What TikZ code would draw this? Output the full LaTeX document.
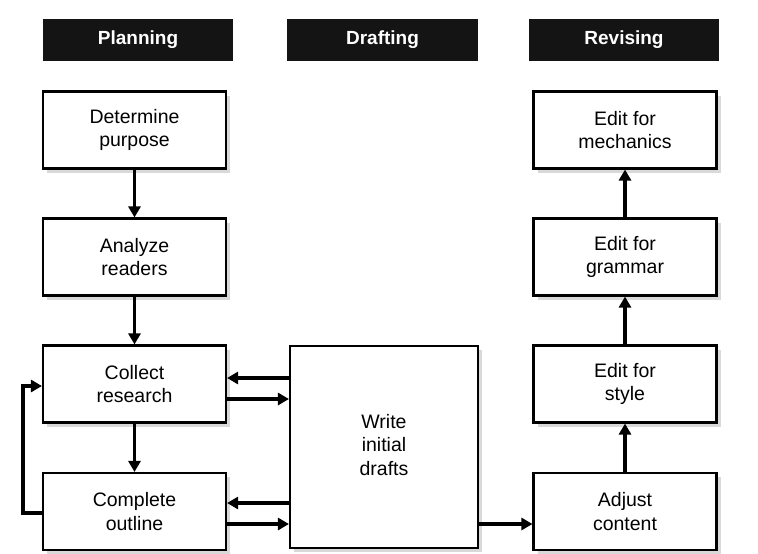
\documentclass[tikz,border=0pt]{standalone}
\usepackage{fontspec}
\setmainfont{Liberation Sans}
\usetikzlibrary{arrows.meta,shadows}

\tikzset{
  phase/.style={fill=black!92, text=white, minimum width=190pt, minimum height=42pt,
    inner sep=0pt, font=\fontsize{19}{23}\selectfont\bfseries},
  stepbox/.style={draw=black, line width=2.1pt, fill=white, minimum width=183pt,
    minimum height=77pt, inner sep=0pt, align=center,
    font=\fontsize{19.5}{23.5}\selectfont,
    drop shadow={shadow xshift=4pt, shadow yshift=-4pt, fill=black!15, opacity=1}},
  arr/.style={line width=3.4pt, -{Triangle[length=11pt,width=12pt]}},
}

\begin{document}
\begin{tikzpicture}[x=1pt, y=-1pt]
  \useasboundingbox (0,0) rectangle (758,554);

  % column headings
  \node[phase] (hplan) at (138,40) {Planning};
  \node[phase, minimum width=191pt] (hdraft) at (382.5,40) {Drafting};
  \node[phase] (hrev) at (624,40) {Revising};

  % planning column
  \node[stepbox] (det) at (134.5,130) {Determine\\purpose};
  \node[stepbox] (ana) at (134.5,257) {Analyze\\readers};
  \node[stepbox] (col) at (134.5,384) {Collect\\research};
  \node[stepbox] (com) at (134.5,511.5) {Complete\\outline};

  % drafting column (text sits a little above the middle)
  \node[stepbox, minimum width=188pt, minimum height=202pt] (wri) at (384,447)
    {\raisebox{6pt}{\begin{tabular}{@{}c@{}}Write\\initial\\drafts\end{tabular}}};

  % revising column
  \node[stepbox] (mec) at (625,130) {Edit for\\mechanics};
  \node[stepbox] (gra) at (625,257) {Edit for\\grammar};
  \node[stepbox] (sty) at (625,384) {Edit for\\style};
  \node[stepbox] (adj) at (625,511.5) {Adjust\\content};

  % planning flow
  \draw[arr] (det) -- (ana);
  \draw[arr] (ana) -- (col);
  \draw[arr] (col) -- (com);

  % exchanges between planning and drafting
  \coordinate (c1) at ([yshift=6pt]col.east);
  \coordinate (c2) at ([yshift=-15pt]col.east);
  \coordinate (o1) at ([yshift=8.5pt]com.east);
  \coordinate (o2) at ([yshift=-12.5pt]com.east);
  \draw[arr] (wri.west |- c1) -- (c1);
  \draw[arr] (c2) -- (wri.west |- c2);
  \draw[arr] (wri.west |- o1) -- (o1);
  \draw[arr] (o2) -- (wri.west |- o2);

  % loop from outline back to research
  \coordinate (lp) at (23,386);
  \draw[arr] ([yshift=-1.5pt]com.west) -| (lp) -- (col.west |- lp);

  % drafting into revising
  \coordinate (a1) at ([yshift=-12.5pt]adj.west);
  \draw[arr] (wri.east |- a1) -- (a1);

  % revising flow
  \draw[arr] (adj) -- (sty);
  \draw[arr] (sty) -- (gra);
  \draw[arr] (gra) -- (mec);
\end{tikzpicture}
\end{document}
